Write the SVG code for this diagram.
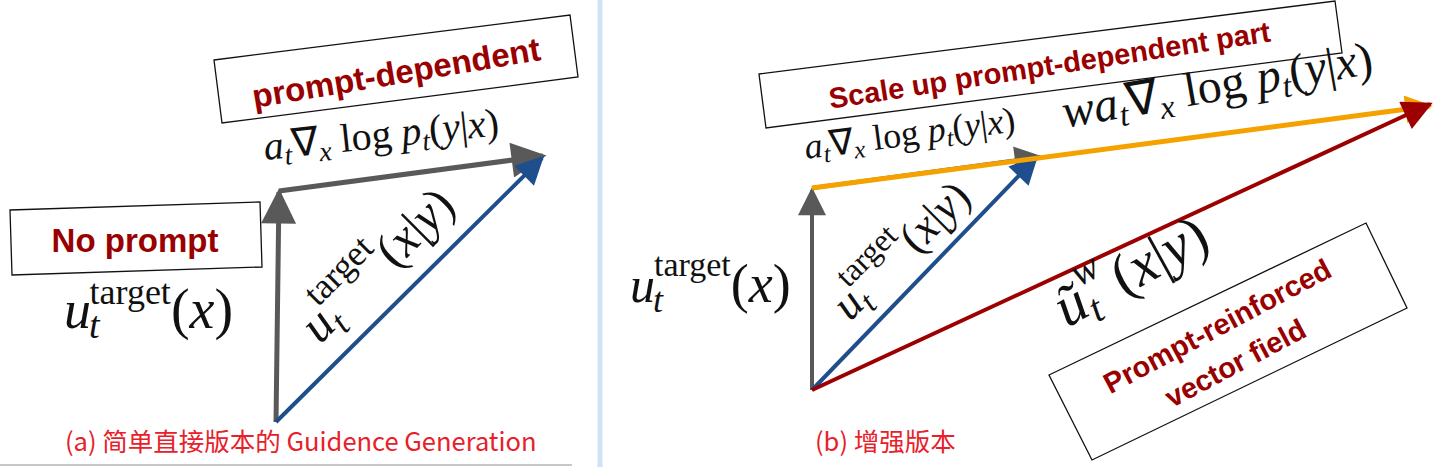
<svg xmlns="http://www.w3.org/2000/svg" width="1443" height="467" viewBox="0 0 1443 467">
<style>
.m{font-family:"Liberation Serif",serif;fill:#111}
.i{font-style:italic}
.lbl{font-family:"Liberation Sans",Arial,sans-serif;font-weight:bold;fill:#990000}
.cap{font-family:"Noto Sans CJK SC","Noto Sans",sans-serif;fill:#e8202a;font-size:25.5px}
.box{fill:#fff;stroke:#111;stroke-width:1.3}
</style>
<defs>
<marker id="hb" viewBox="0 0 10 10" refX="9" refY="5" markerWidth="8" markerHeight="7" orient="auto"><path d="M0,0L10,5L0,10z" fill="#1f4e8c"/></marker>
<marker id="ho" viewBox="0 0 10 10" refX="9" refY="5" markerWidth="7" markerHeight="5.5" orient="auto"><path d="M0,0L10,5L0,10z" fill="#f5a100"/></marker>
<marker id="hr" viewBox="0 0 10 10" refX="9" refY="5" markerWidth="9" markerHeight="7.5" orient="auto"><path d="M0,0L10,5L0,10z" fill="#9c0000"/></marker>
<marker id="hg2" viewBox="0 0 10 10" refX="9" refY="5" markerWidth="7.5" markerHeight="7" orient="auto"><path d="M0,0L10,5L0,10z" fill="#595959"/></marker>
</defs>
<rect width="1443" height="467" fill="#fff"/>
<line x1="600" y1="0" x2="600" y2="467" stroke="#cfe2f8" stroke-width="5"/>
<line x1="0" y1="465" x2="572" y2="465" stroke="#c8c8c8" stroke-width="2"/>

<g id="connectors">
<line x1="276" y1="422" x2="279" y2="192" stroke="#595959" stroke-width="5" marker-end="url(#hg2)"/>
<line x1="279" y1="191" x2="543" y2="156" stroke="#595959" stroke-width="5" marker-end="url(#hg2)"/>
<line x1="276" y1="422" x2="542" y2="158" stroke="#1f4e8c" stroke-width="4" marker-end="url(#hb)"/>
<line x1="812" y1="390" x2="812" y2="190" stroke="#595959" stroke-width="4" marker-end="url(#hg2)"/>
<line x1="812" y1="188" x2="1040" y2="157" stroke="#595959" stroke-width="4" marker-end="url(#hg2)"/>
<line x1="812" y1="390" x2="1036" y2="158" stroke="#1f4e8c" stroke-width="4" marker-end="url(#hb)"/>
<line x1="812" y1="188" x2="1430" y2="106" stroke="#f5a100" stroke-width="5" marker-end="url(#ho)"/>
<line x1="812" y1="390" x2="1430" y2="104" stroke="#9c0000" stroke-width="4" marker-end="url(#hr)"/>
</g>

<g id="node-prompt-dependent">
<polygon class="box" points="214,60 570,15 578,77 222,123"/>
<text class="lbl" font-size="33" transform="translate(398,84) rotate(-9.5)" text-anchor="middle">prompt-dependent</text>
</g>
<g id="node-no-prompt">
<polygon class="box" points="10,210 260,202 262,267 12,275"/>
<text class="lbl" font-size="33" x="135" y="252" text-anchor="middle">No prompt</text>
</g>
<g id="node-scale">
<polygon class="box" points="759,74 1335,1 1342,53 766,128"/>
<text class="lbl" font-size="29" transform="translate(1051,75) rotate(-8.7)" text-anchor="middle">Scale up prompt-dependent part</text>
</g>
<g id="node-reinforced">
<polygon class="box" points="1049,375 1366,223 1407,308 1092,460"/>
<text class="lbl" font-size="29" transform="translate(1222,335) rotate(-28)" text-anchor="middle">Prompt-reinforced</text>
<text class="lbl" font-size="29" transform="translate(1240,372) rotate(-28)" text-anchor="middle">vector field</text>
</g>

<g id="formulas">
<text class="m" font-size="40" transform="translate(265,160) rotate(-6)"><tspan class="i">a</tspan><tspan font-size="28" class="i" dy="7">t</tspan><tspan dy="-7">∇</tspan><tspan font-size="28" class="i" dy="7">x</tspan><tspan dy="-7"> log </tspan><tspan class="i">p</tspan><tspan font-size="28" class="i" dy="7">t</tspan><tspan dy="-7">(</tspan><tspan class="i">y</tspan>|<tspan class="i">x</tspan>)</text>
<text class="m" font-size="54" x="64" y="328"><tspan class="i">u</tspan><tspan font-size="38" class="i" dx="-2" dy="10">t</tspan><tspan font-size="36" dx="-10" dy="-34">target</tspan><tspan font-size="56" dy="24">(</tspan><tspan class="i" font-size="56">x</tspan><tspan font-size="56">)</tspan></text>
<text class="m" font-size="50" transform="translate(320,345) rotate(-45)"><tspan class="i">u</tspan><tspan font-size="36" class="i" dy="10">t</tspan><tspan font-size="36" dx="-10" dy="-38">target</tspan><tspan dy="28">(</tspan><tspan class="i">x</tspan>|<tspan class="i">y</tspan>)</text>

<text class="m" font-size="36" transform="translate(806,159) rotate(-7.5)"><tspan class="i">a</tspan><tspan font-size="25" class="i" dy="6">t</tspan><tspan dy="-6">∇</tspan><tspan font-size="25" class="i" dy="6">x</tspan><tspan dy="-6"> log </tspan><tspan class="i">p</tspan><tspan font-size="25" class="i" dy="6">t</tspan><tspan dy="-6">(</tspan><tspan class="i">y</tspan>|<tspan class="i">x</tspan>)</text>
<text class="m" font-size="48" transform="translate(1065,128) rotate(-10)"><tspan class="i">wa</tspan><tspan font-size="33" class="i" dy="8">t</tspan><tspan dy="-8">∇</tspan><tspan font-size="33" class="i" dy="8">x</tspan><tspan dy="-8"> log </tspan><tspan class="i">p</tspan><tspan font-size="33" class="i" dy="8">t</tspan><tspan dy="-8">(</tspan><tspan class="i">y</tspan>|<tspan class="i">x</tspan>)</text>
<text class="m" font-size="50" x="630" y="302"><tspan class="i">u</tspan><tspan font-size="36" class="i" dx="-2" dy="10">t</tspan><tspan font-size="34" dx="-9" dy="-36">target</tspan><tspan font-size="54" dy="26">(</tspan><tspan class="i" font-size="54">x</tspan><tspan font-size="54">)</tspan></text>
<text class="m" font-size="45" transform="translate(850,322) rotate(-45)"><tspan class="i">u</tspan><tspan font-size="32" class="i" dy="9">t</tspan><tspan font-size="32" dx="-9" dy="-34">target</tspan><tspan dy="25">(</tspan><tspan class="i">x</tspan>|<tspan class="i">y</tspan>)</text>
<text class="m" font-size="58" transform="translate(1067,328) rotate(-29)"><tspan class="i">ũ</tspan><tspan font-size="40" class="i" dy="10">t</tspan><tspan font-size="40" class="i" dx="-10" dy="-40">w</tspan><tspan dx="8" dy="30">(</tspan><tspan class="i">x</tspan>|<tspan class="i">y</tspan>)</text>
</g>

<g id="captions">
<text class="cap" x="65" y="451">(a) 简单直接版本的 Guidence Generation</text>
<text class="cap" x="815" y="451">(b) 增强版本</text>
</g>
</svg>
